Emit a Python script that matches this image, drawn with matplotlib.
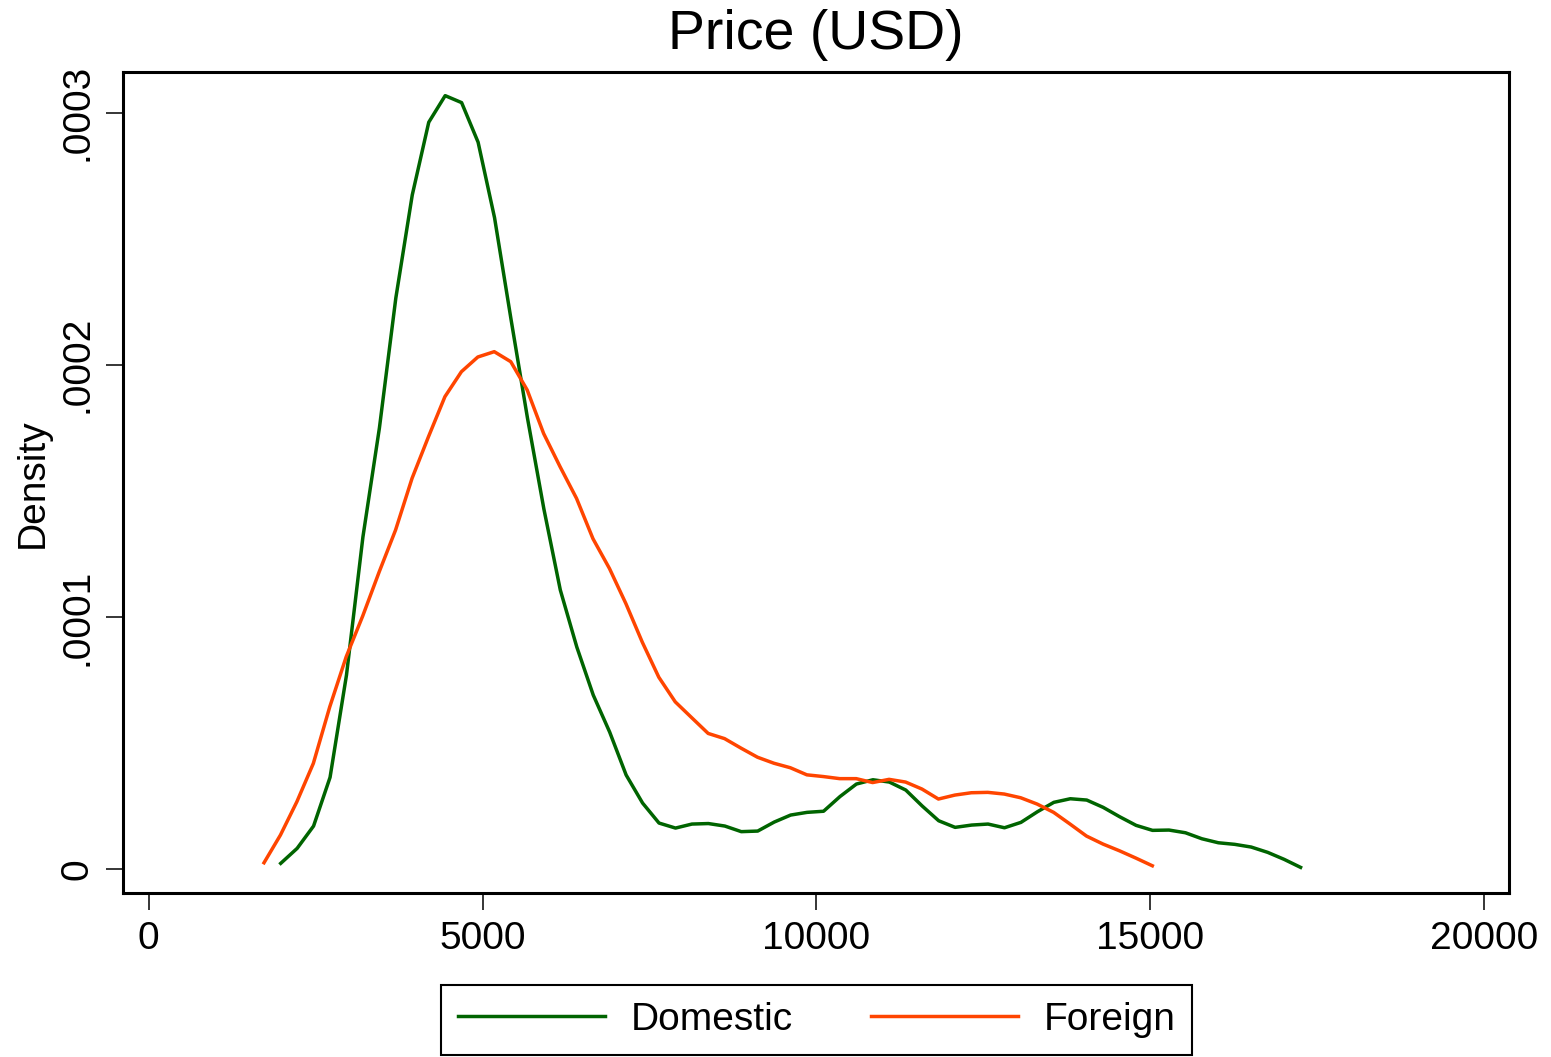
import numpy as np
import matplotlib
matplotlib.use("Agg")
import matplotlib.pyplot as plt

plt.rcParams['font.family'] = ['Liberation Sans', 'DejaVu Sans']

# kernel density estimates of price by origin (evaluation points, density)
dom_x = [1977, 2223, 2469, 2716, 2962, 3208, 3455, 3701, 3947, 4194,
         4440, 4686, 4933, 5179, 5425, 5672, 5918, 6164, 6411, 6657,
         6903, 7150, 7396, 7642, 7889, 8135, 8381, 8628, 8874, 9120,
         9367, 9613, 9859, 10106, 10352, 10598, 10845, 11091, 11337, 11584,
         11830, 12076, 12323, 12569, 12815, 13062, 13308, 13554, 13801, 14047,
         14293, 14540, 14786, 15032, 15279, 15525, 15771, 16018, 16264, 16510,
         16757, 17003, 17249]
dom_y = [0.0226, 0.0821, 0.1706, 0.3637, 0.7695, 1.3169, 1.7493, 2.2650, 2.6735, 2.9619,
         3.0674, 3.0397, 2.8826, 2.5835, 2.1817, 1.7890, 1.4280, 1.1067, 0.8806, 0.6902,
         0.5434, 0.3729, 0.2618, 0.1825, 0.1626, 0.1785, 0.1805, 0.1706, 0.1484, 0.1507,
         0.1864, 0.2142, 0.2249, 0.2293, 0.2876, 0.3372, 0.3542, 0.3451, 0.3134, 0.2499,
         0.1916, 0.1654, 0.1745, 0.1785, 0.1638, 0.1852, 0.2273, 0.2646, 0.2789, 0.2737,
         0.2447, 0.2075, 0.1733, 0.1535, 0.1547, 0.1440, 0.1202, 0.1043, 0.0980, 0.0873,
         0.0662, 0.0385, 0.0067]

for_x = [1727, 1973, 2219, 2466, 2712, 2958, 3205, 3451, 3697, 3944,
         4190, 4436, 4683, 4929, 5175, 5422, 5668, 5914, 6161, 6407,
         6653, 6900, 7146, 7392, 7639, 7885, 8131, 8378, 8624, 8870,
         9117, 9363, 9609, 9856, 10102, 10348, 10595, 10841, 11087, 11334,
         11580, 11826, 12073, 12319, 12565, 12812, 13058, 13304, 13551, 13797,
         14043, 14290, 14536, 14782, 15029]
for_y = [0.0250, 0.1349, 0.2670, 0.4193, 0.6438, 0.8421, 1.0036, 1.1781, 1.3447, 1.5498,
         1.7148, 1.8735, 1.9726, 2.0309, 2.0520, 2.0123, 1.9000, 1.7275, 1.5954, 1.4700,
         1.3102, 1.1920, 1.0528, 0.8996, 0.7608, 0.6632, 0.6005, 0.5379, 0.5173, 0.4796,
         0.4435, 0.4197, 0.4018, 0.3737, 0.3669, 0.3586, 0.3586, 0.3431, 0.3558, 0.3451,
         0.3173, 0.2777, 0.2935, 0.3027, 0.3042, 0.2975, 0.2828, 0.2578, 0.2249, 0.1785,
         0.1309, 0.0992, 0.0726, 0.0436, 0.0131]

dom_y = np.array(dom_y) * 1e-4
for_y = np.array(for_y) * 1e-4

xticks = [0, 5000, 10000, 15000, 20000]
yticks = [0, 0.0001, 0.0002, 0.0003]
ylabels = ['0', '.0001', '.0002', '.0003']

fig = plt.figure(figsize=(15.51, 10.57), dpi=100)
ax = fig.add_axes([0.0795, 0.1549, 0.8932, 0.7767])

ax.plot(dom_x, dom_y, color='#006400', lw=2.5, label='Domestic')
ax.plot(for_x, for_y, color='#ff4500', lw=2.5, label='Foreign')

ax.set_xlim(-380, 20365)
ax.set_ylim(-0.0000096, 0.000316)

ax.set_xticks(xticks)
ax.set_xticklabels([str(t) for t in xticks])
ax.set_yticks(yticks)
ax.set_yticklabels(ylabels, rotation=90, va='center')
ax.tick_params(axis='both', labelsize=28, length=12, width=1.1, pad=8)

for s in ax.spines.values():
    s.set_linewidth(2.2)

fig.text(816 / 1551, 1 - 35 / 1057, 'Price (USD)', fontsize=40,
         ha='center', va='center')
fig.text(33 / 1551, 1 - 483 / 1057, 'Density', fontsize=28, rotation=90,
         ha='center', va='center')

leg = ax.legend(loc='center', bbox_to_anchor=(816.5 / 1551, 1 - 1020 / 1057),
                bbox_transform=fig.transFigure, ncol=2, fontsize=28,
                frameon=True, fancybox=False, framealpha=1, edgecolor='black',
                handlelength=3.8, handletextpad=0.65, columnspacing=2.0,
                borderpad=0.43, borderaxespad=0)
leg.get_frame().set_linewidth(1.5)

plt.savefig('out.png', dpi=100)
